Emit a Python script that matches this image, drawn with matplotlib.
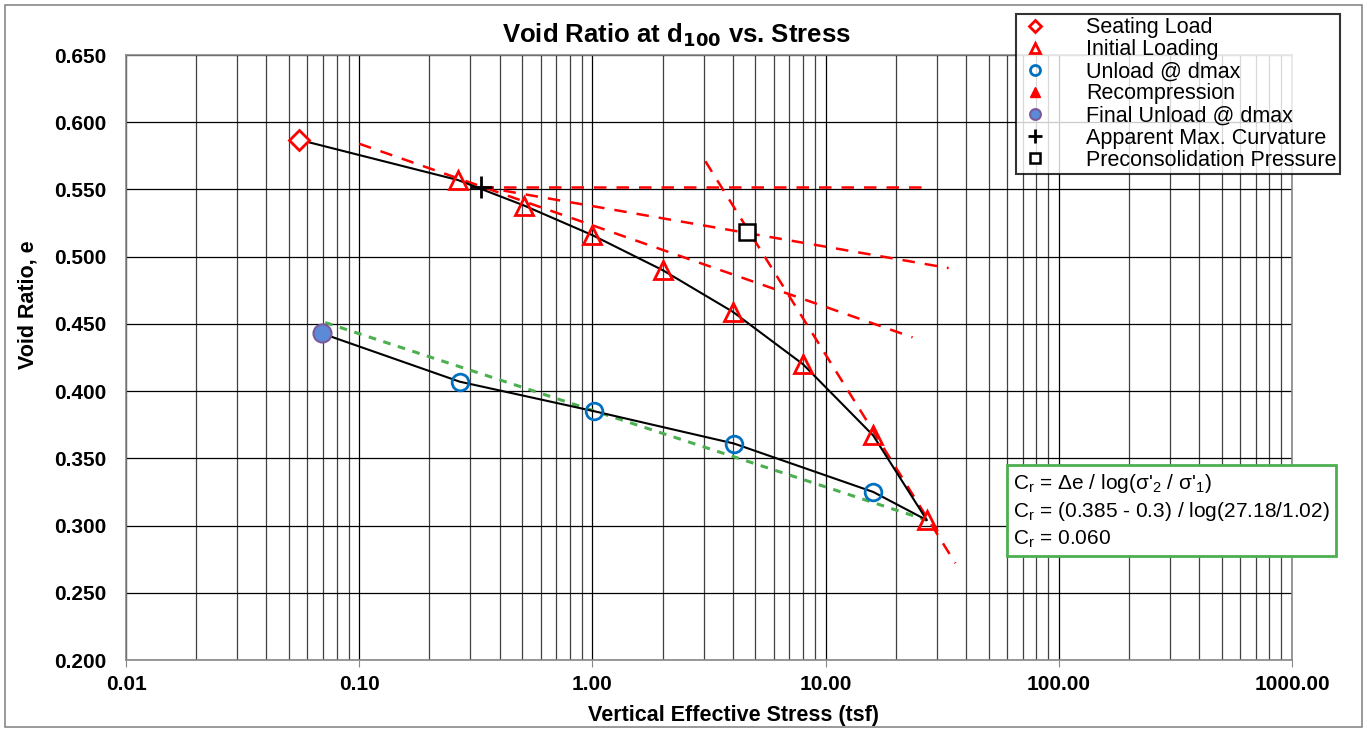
import numpy as np
import matplotlib.pyplot as plt
from matplotlib.patches import Rectangle
from matplotlib.ticker import FixedLocator, FuncFormatter, LogLocator

plt.rcParams['font.family'] = ['Liberation Sans', 'DejaVu Sans']

# data
seat_x = [0.055]
seat_e = [0.587]
load_x = [0.265, 0.51, 1.0, 2.0, 4.0, 8.0, 16.0, 27.18]
load_e = [0.557, 0.538, 0.516, 0.490, 0.459, 0.420, 0.367, 0.304]
unload_x = [0.27, 1.02, 4.05, 16.0]
unload_e = [0.407, 0.385, 0.361, 0.325]
final_x = [0.069]
final_e = [0.443]
curv_x = [0.334]
curv_e = [0.552]
pc_x = [4.6]
pc_e = [0.518]

# construction lines
tangent_x = [0.1, 23.6]
tangent_e = [0.584, 0.440]
horiz_x = [0.334, 25.6]
horiz_e = [0.552, 0.552]
bisect_x = [0.334, 33.7]
bisect_e = [0.552, 0.4915]
virgin_x = [3.05, 36.0]
virgin_e = [0.571, 0.272]
cr_x = [0.0715, 27.18]
cr_e = [0.451, 0.304]

W, H = 1367, 732
fig = plt.figure(figsize=(W / 100, H / 100), dpi=100)
ax = fig.add_axes([126 / W, 1 - 660 / H, (1292 - 126) / W, (660 - 55) / H])
fig.patches.append(Rectangle((5 / W, 5 / H), 1 - 10 / W, 1 - 10 / H, transform=fig.transFigure,
                             fill=False, edgecolor='#888888', lw=1.2))

ax.set_xscale('log')
ax.set_xlim(0.01, 1000)
ax.set_ylim(0.2, 0.65)

ax.xaxis.set_major_locator(LogLocator(base=10, numticks=10))
ax.xaxis.set_minor_locator(LogLocator(base=10, subs=np.arange(2, 10), numticks=100))
ax.xaxis.set_major_formatter(FuncFormatter(lambda v, p: f'{v:.2f}'))
ax.xaxis.set_minor_formatter(FuncFormatter(lambda v, p: ''))
ax.yaxis.set_major_locator(FixedLocator(np.arange(0.2, 0.651, 0.05)))
ax.yaxis.set_major_formatter(FuncFormatter(lambda v, p: f'{v:.3f}'))

ax.grid(True, which='major', color='black', lw=0.9)
ax.grid(True, which='minor', axis='x', color='#404040', lw=0.9)
ax.tick_params(which='major', labelsize=15, length=5, color='#888888', pad=6)
ax.tick_params(which='minor', length=0)
ax.tick_params(axis='y', length=0, pad=14)
for lab in ax.get_xticklabels() + ax.get_yticklabels():
    lab.set_fontweight('bold')
for sp in ax.spines.values():
    sp.set_color('#888888')
    sp.set_linewidth(1.2)

# red dashed construction lines
for xs, es in [(tangent_x, tangent_e), (horiz_x, horiz_e), (bisect_x, bisect_e), (virgin_x, virgin_e)]:
    ax.plot(xs, es, color='#FF0000', lw=1.8, ls=(0, (5, 4)), zorder=3)
ax.plot(cr_x, cr_e, color='#4CAF50', lw=2.2, ls=(0, (2.5, 2.5)), zorder=3)

# consolidation curve
curve_x = seat_x + load_x + unload_x[::-1] + final_x
curve_e = seat_e + load_e + unload_e[::-1] + final_e
ax.plot(curve_x, curve_e, color='black', lw=1.5, zorder=4)

ax.plot(seat_x, seat_e, ls='none', marker='D', ms=10, mfc='white', mec='#FF0000', mew=2, zorder=5,
        label='Seating Load')
ax.plot(load_x, load_e, ls='none', marker='^', ms=13, mfc='none', mec='#FF0000', mew=2, zorder=5,
        label='Initial Loading')
ax.plot(unload_x, unload_e, ls='none', marker='o', ms=12, mfc='none', mec='#0070C0', mew=2, zorder=5,
        label='Unload @ dmax')
ax.plot([], [], ls='none', marker='^', ms=13, mfc='#FF0000', mec='#FF0000', label='Recompression')
ax.plot(final_x, final_e, ls='none', marker='o', ms=13, mfc='#5B8BD6', mec='#7B5A9C', mew=1.5, zorder=5,
        label='Final Unload @ dmax')
ax.plot(curv_x, curv_e, ls='none', marker='+', ms=16, mec='black', mew=2, zorder=6,
        label='Apparent Max. Curvature')
ax.plot(pc_x, pc_e, ls='none', marker='s', ms=11, mfc='white', mec='black', mew=1.8, zorder=6,
        label='Preconsolidation Pressure')

leg = fig.legend(loc='upper left', bbox_to_anchor=(1016 / W, 1 - 14 / H), fontsize=15.5,
                 frameon=True, fancybox=False, edgecolor='black', handlelength=1.5,
                 handletextpad=1.6, borderpad=0.15, labelspacing=0.05, markerscale=0.6,
                 borderaxespad=0)
leg.get_frame().set_linewidth(1.5)

fig.text(676 / W, 1 - 35 / H, 'Void Ratio at d$_\\mathbf{100}$ vs. Stress', fontsize=18.5,
         fontweight='bold', ha='center', va='center')
fig.text(733 / W, 1 - 715 / H, 'Vertical Effective Stress (tsf)', fontsize=15.5,
         fontweight='bold', ha='center', va='center')
fig.text(28 / W, 1 - 305 / H, 'Void Ratio, e', fontsize=15.5, fontweight='bold',
         ha='center', va='center', rotation=90)

box_text = ("C$_\\mathregular{r}$ = \u0394e / log(\u03c3'$_\\mathregular{2}$ / \u03c3'$_\\mathregular{1}$)\n"
            "C$_\\mathregular{r}$ = (0.385 - 0.3) / log(27.18/1.02)\n"
            "C$_\\mathregular{r}$ = 0.060")
fig.text(1013 / W, 1 - 472 / H, box_text, fontsize=15, va='top', ha='left', linespacing=1.3,
         bbox=dict(boxstyle='square,pad=0.3', facecolor='white', edgecolor='#4CAF50', lw=2),
         zorder=10)

fig.savefig('out.png', dpi=100)
